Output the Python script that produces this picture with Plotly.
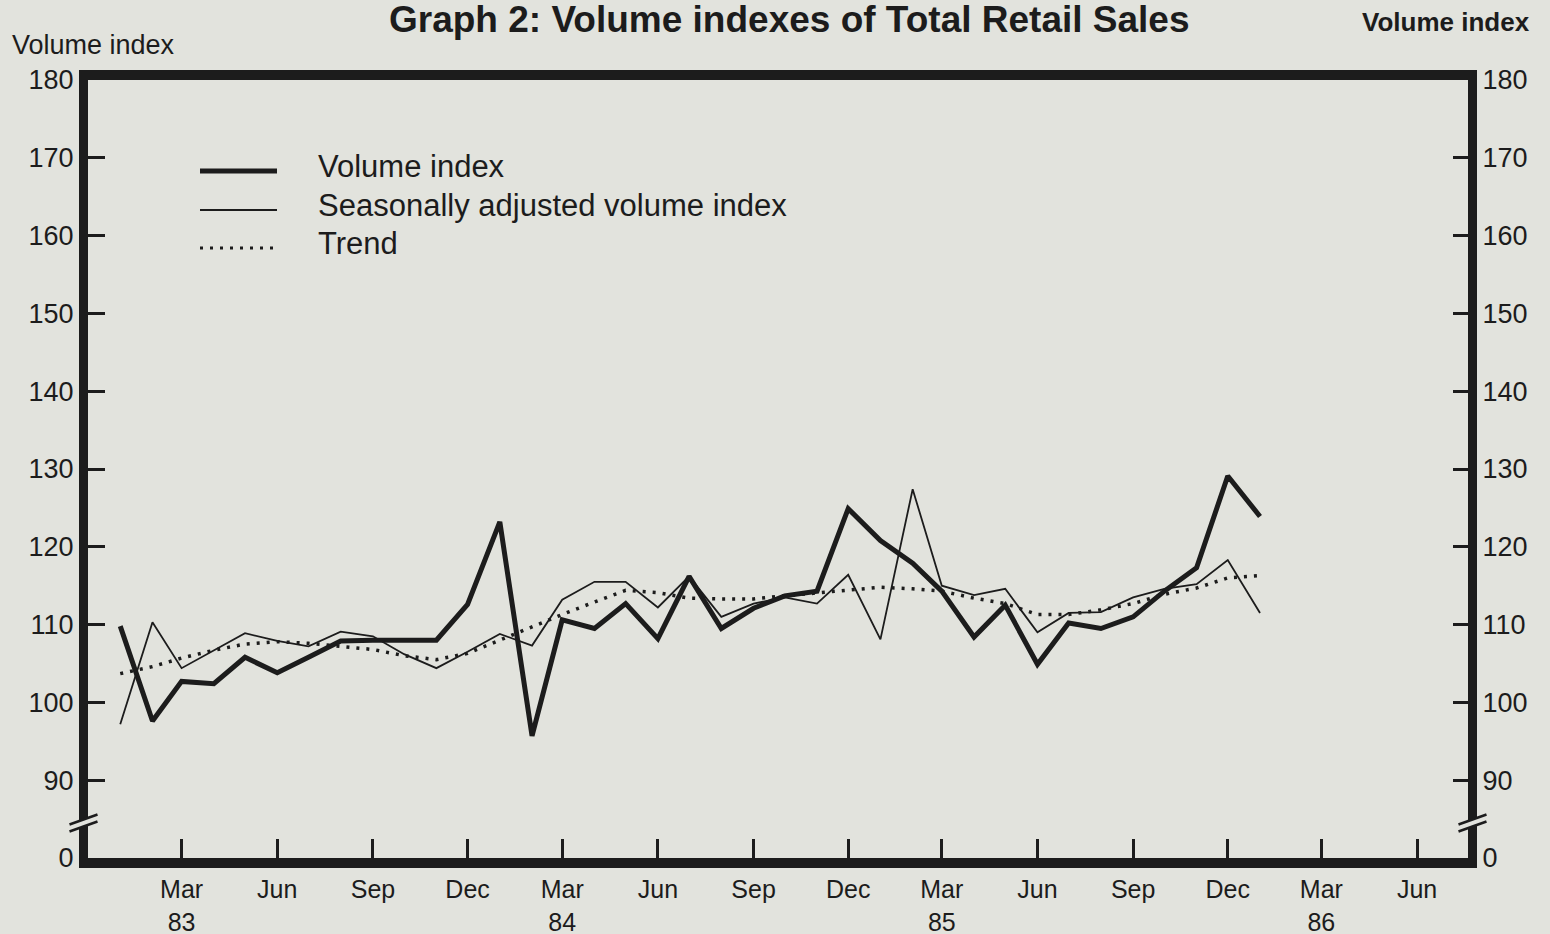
import plotly.graph_objects as go

# ---------------- data ----------------
months = [
    "1983-01-01", "1983-02-01", "1983-03-01", "1983-04-01", "1983-05-01", "1983-06-01",
    "1983-07-01", "1983-08-01", "1983-09-01", "1983-10-01", "1983-11-01", "1983-12-01",
    "1984-01-01", "1984-02-01", "1984-03-01", "1984-04-01", "1984-05-01", "1984-06-01",
    "1984-07-01", "1984-08-01", "1984-09-01", "1984-10-01", "1984-11-01", "1984-12-01",
    "1985-01-01", "1985-02-01", "1985-03-01", "1985-04-01", "1985-05-01", "1985-06-01",
    "1985-07-01", "1985-08-01", "1985-09-01", "1985-10-01", "1985-11-01", "1985-12-01",
    "1986-01-01",
]

volume_index = [
    109.8, 97.6, 102.7, 102.4, 105.8, 103.8, 105.8, 107.9, 108.0, 108.0, 108.0, 112.6,
    123.2, 95.7, 110.6, 109.5, 112.7, 108.2, 116.2, 109.5, 112.1, 113.7, 114.3, 124.9,
    120.8, 117.9, 114.3, 108.4, 112.5, 104.9, 110.2, 109.5, 111.0, 114.3, 117.3, 129.1,
    123.9,
]

seasonally_adjusted = [
    97.2, 110.3, 104.4, 106.7, 108.9, 107.9, 107.2, 109.1, 108.5, 106.2, 104.4, 106.5,
    108.8, 107.3, 113.2, 115.5, 115.5, 112.2, 116.2, 111.0, 112.7, 113.5, 112.7, 116.4,
    108.1, 127.4, 115.0, 113.8, 114.6, 109.0, 111.5, 111.6, 113.5, 114.6, 115.2, 118.3,
    111.5,
]

trend = [
    103.7, 104.6, 105.7, 106.7, 107.5, 107.8, 107.6, 107.2, 106.8, 106.0, 105.5, 106.3,
    108.0, 109.8, 111.3, 112.9, 114.4, 114.1, 113.4, 113.3, 113.3, 113.7, 114.1, 114.4,
    114.8, 114.6, 114.3, 113.4, 112.7, 111.3, 111.3, 111.9, 112.7, 113.9, 114.7, 116.0,
    116.3,
]

x_tick_dates = [
    "1983-03-01", "1983-06-01", "1983-09-01", "1983-12-01",
    "1984-03-01", "1984-06-01", "1984-09-01", "1984-12-01",
    "1985-03-01", "1985-06-01", "1985-09-01", "1985-12-01",
    "1986-03-01", "1986-06-01",
]
x_tick_labels = [
    "Mar<br>83", "Jun", "Sep", "Dec",
    "Mar<br>84", "Jun", "Sep", "Dec",
    "Mar<br>85", "Jun", "Sep", "Dec",
    "Mar<br>86", "Jun",
]

# 80 on the axis stands for the broken-off "0"
y_tick_values = [80, 90, 100, 110, 120, 130, 140, 150, 160, 170, 180]
y_tick_labels = ["0", "90", "100", "110", "120", "130", "140", "150", "160", "170", "180"]

series_names = ["Volume index", "Seasonally adjusted volume index", "Trend"]

# ---------------- style ----------------
BG = "#e2e3dd"
INK = "#1c1c1c"
FONT = "Liberation Sans, Arial, sans-serif"

W, H = 1550, 934
ML, MR, MT, MB = 88, 82, 80, 76
PW = W - ML - MR
PH = H - MT - MB


def xp(px):
    return (px - ML) / PW


def yp(py):
    return (H - MB - py) / PH


fig = go.Figure()

fig.add_trace(go.Scatter(
    x=months, y=volume_index, mode="lines", name=series_names[0],
    line=dict(color=INK, width=5), showlegend=False,
))
fig.add_trace(go.Scatter(
    x=months, y=seasonally_adjusted, mode="lines", name=series_names[1],
    line=dict(color=INK, width=1.8), showlegend=False,
))
fig.add_trace(go.Scatter(
    x=months, y=trend, mode="lines", name=series_names[2], yaxis="y2",
    line=dict(color=INK, width=3.5, dash="3px,7px"), showlegend=False,
))

shapes = []

# axis-break marks (double slash) on both vertical axes
for cx in (ML - 4.5, W - MR + 4.5):
    cy = 823
    hw, rise, gap = 14, 5, 3.5
    ll = (cx - hw, cy + gap + rise)
    lr = (cx + hw, cy + gap - rise)
    ul = (cx - hw, cy - gap + rise)
    ur = (cx + hw, cy - gap - rise)
    path = "M {},{} L {},{} L {},{} L {},{} Z".format(
        xp(ll[0]), yp(ll[1]), xp(lr[0]), yp(lr[1]),
        xp(ur[0]), yp(ur[1]), xp(ul[0]), yp(ul[1]))
    shapes.append(dict(type="path", path=path, xref="paper", yref="paper",
                       fillcolor=BG, line=dict(width=0), layer="above"))
    for a, b in ((ll, lr), (ul, ur)):
        shapes.append(dict(type="line", xref="paper", yref="paper",
                           x0=xp(a[0]), y0=yp(a[1]), x1=xp(b[0]), y1=yp(b[1]),
                           line=dict(color=INK, width=2.5), layer="above"))

# legend samples
legend_rows = [
    (171, dict(color=INK, width=5), 166),
    (210, dict(color=INK, width=1.8), 205),
    (248, dict(color=INK, width=3, dash="3px,7px"), 244),
]
annotations = []
for (ly, lstyle, ty), name in zip(legend_rows, series_names):
    shapes.append(dict(type="line", xref="paper", yref="paper",
                       x0=xp(200), x1=xp(277), y0=yp(ly), y1=yp(ly),
                       line=lstyle, layer="above"))
    annotations.append(dict(text=name, xref="paper", yref="paper",
                            x=xp(316), y=yp(ty), xanchor="left", yanchor="middle",
                            showarrow=False, font=dict(family=FONT, size=31, color=INK)))

# titles
annotations.append(dict(text="<b>Graph 2: Volume indexes of Total Retail Sales</b>",
                        xref="paper", yref="paper", x=xp(790), y=yp(-3),
                        xanchor="center", yanchor="top", showarrow=False,
                        font=dict(family=FONT, size=37, color=INK)))
annotations.append(dict(text="Volume index", xref="paper", yref="paper",
                        x=xp(10), y=yp(45), xanchor="left", yanchor="middle",
                        showarrow=False, font=dict(family=FONT, size=27, color=INK)))
annotations.append(dict(text="<b>Volume index</b>", xref="paper", yref="paper",
                        x=xp(1532), y=yp(22), xanchor="right", yanchor="middle",
                        showarrow=False, font=dict(family=FONT, size=26, color=INK)))

axis_common = dict(
    showgrid=False, zeroline=False, showline=True, linecolor=INK,
    ticks="inside", tickcolor=INK, tickwidth=2.5, automargin=False,
    tickfont=dict(family=FONT, size=27, color=INK),
)

fig.update_layout(
    width=W, height=H,
    paper_bgcolor=BG, plot_bgcolor=BG,
    margin=dict(l=ML, r=MR, t=MT, b=MB, autoexpand=False),
    showlegend=False,
    xaxis=dict(
        type="date", range=["1982-12-01", "1986-07-20"],
        tickmode="array", tickvals=x_tick_dates, ticktext=x_tick_labels,
        ticklen=19, linewidth=10, mirror=True,
        **{**axis_common, "tickfont": dict(family=FONT, size=25, color=INK)},
    ),
    yaxis=dict(
        range=[80, 180], tickmode="array", tickvals=y_tick_values, ticktext=y_tick_labels,
        ticklen=17, linewidth=9, **axis_common,
    ),
    yaxis2=dict(
        range=[80, 180], tickmode="array", tickvals=y_tick_values, ticktext=y_tick_labels,
        overlaying="y", side="right", ticklen=15, linewidth=9, **axis_common,
    ),
    shapes=shapes,
    annotations=annotations,
)

fig.write_html(
    "out.html",
    config={"displayModeBar": False},
    post_script="document.body.style.margin='0px';document.body.style.overflow='hidden';",
)
